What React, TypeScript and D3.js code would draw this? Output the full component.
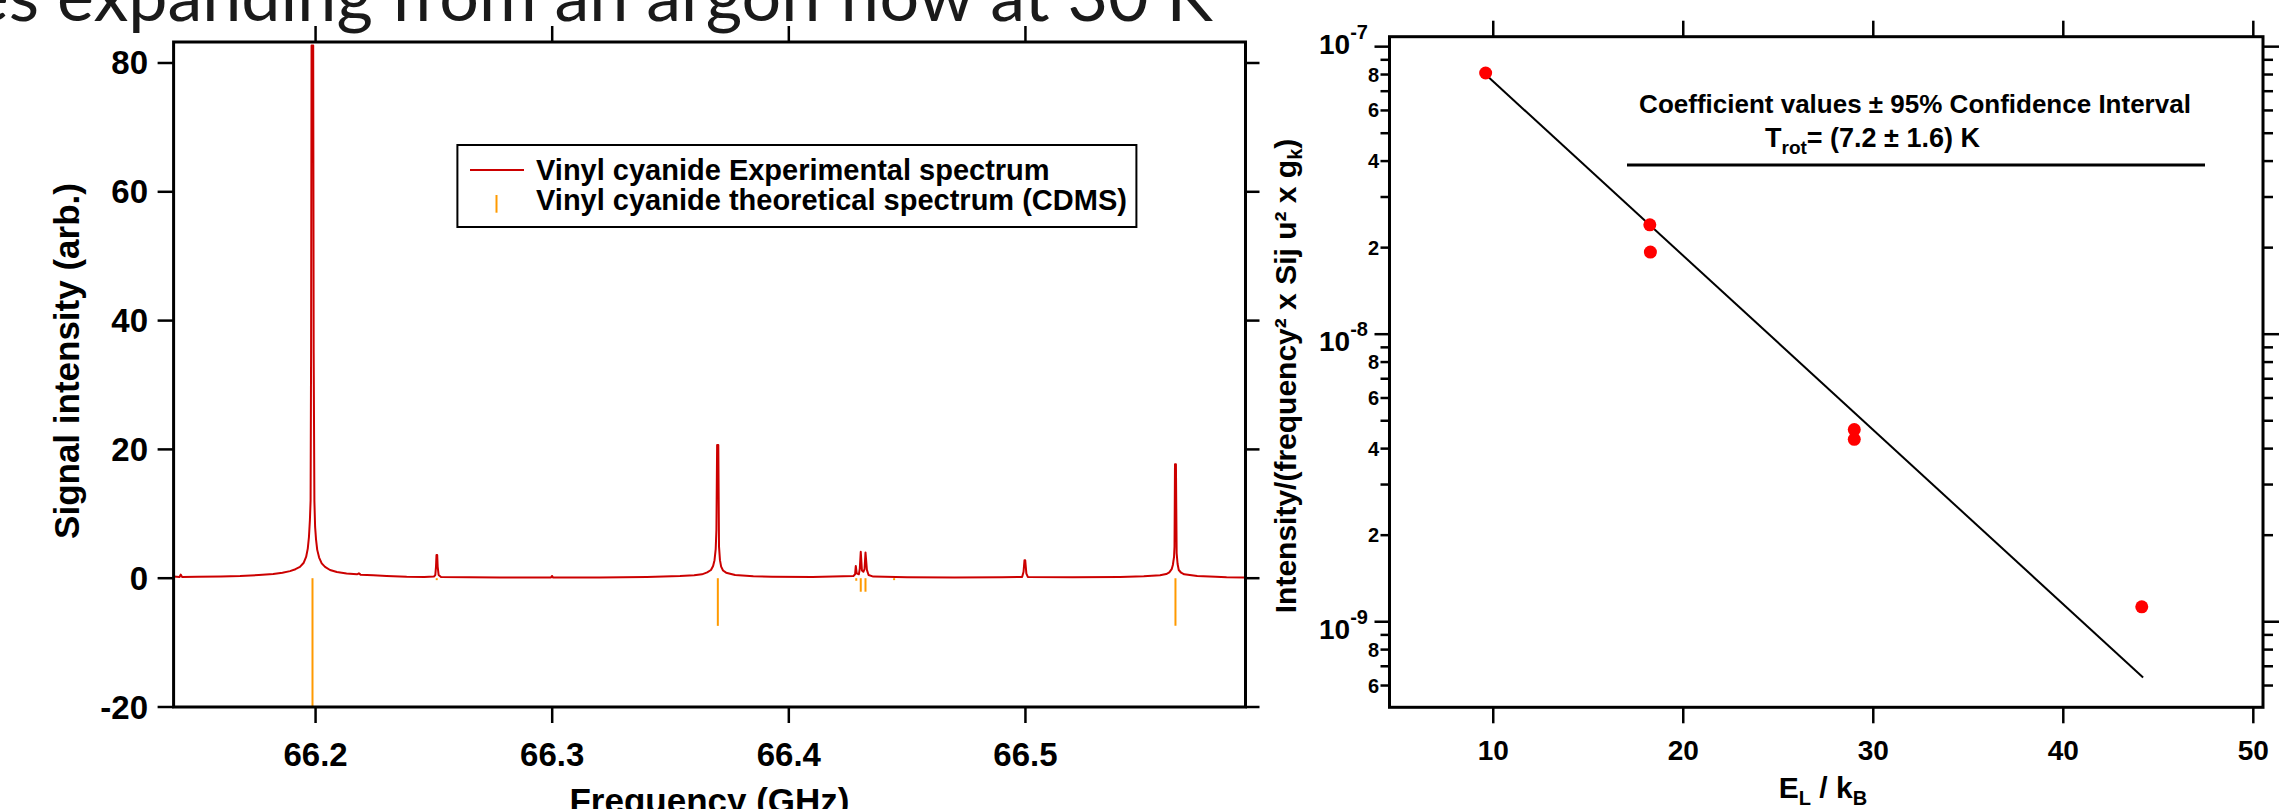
import React from 'react';
import * as d3 from 'd3';

// ---------- Left panel: spectrum ----------
const specFreq = [
  66.14, 66.1425, 66.143, 66.1436, 66.15, 66.16, 66.1681, 66.176, 66.1821, 66.186, 66.1892, 66.1915,
  66.1934, 66.195, 66.196, 66.1967, 66.1972, 66.1976, 66.1979, 66.1981, 66.1983, 66.199, 66.1992,
  66.1995, 66.1998, 66.2002, 66.2007, 66.2015, 66.2026, 66.204, 66.2061, 66.209, 66.2131, 66.2175,
  66.2183, 66.219, 66.2244, 66.23, 66.2385, 66.246, 66.25, 66.2506, 66.2509, 66.2511, 66.2514,
  66.2516, 66.252, 66.253, 66.265, 66.2779, 66.29, 66.2995, 66.2999, 66.3004, 66.32, 66.34, 66.354,
  66.36, 66.3633, 66.3655, 66.3671, 66.368, 66.3686, 66.3691, 66.3694, 66.3697, 66.3702, 66.3705,
  66.3709, 66.3714, 66.3722, 66.3735, 66.3773, 66.385, 66.3929, 66.41, 66.4273, 66.428, 66.4283,
  66.4287, 66.4296, 66.43, 66.4304, 66.4309, 66.4315, 66.432, 66.4324, 66.433, 66.4337, 66.4357,
  66.45, 66.47, 66.49, 66.4986, 66.4992, 66.4996, 66.4999, 66.5004, 66.501, 66.52, 66.54, 66.55,
  66.5569, 66.5595, 66.5608, 66.5618, 66.5623, 66.5628, 66.563, 66.5632, 66.5636, 66.5639, 66.5643,
  66.5648, 66.5658, 66.5671, 66.5726, 66.5804, 66.585, 66.5921, 66.593,
];
const specInt = [
  0.25, 0.2, 0.55, 0.2, 0.22, 0.28, 0.34, 0.5, 0.65, 0.85, 1.1, 1.4,
  1.75, 2.4, 3.3, 4.6, 6.4, 9.0, 12.1, 35, 82.7, 82.7, 35,
  12, 8.0, 6.0, 4.4, 3.2, 2.3, 1.75, 1.27, 0.95, 0.73, 0.6,
  0.75, 0.55, 0.45, 0.35, 0.23, 0.2, 0.25, 0.5, 1.8, 3.6, 3.6,
  1.8, 0.5, 0.2, 0.15, 0.1, 0.12, 0.1, 0.35, 0.1, 0.12, 0.2, 0.34,
  0.45, 0.6, 0.9, 1.27, 1.9, 2.8, 4.5, 7.5, 20.7, 20.7, 4.9,
  2.8, 1.8, 1.2, 0.86, 0.5, 0.32, 0.24, 0.2, 0.35, 0.6, 1.9,
  0.75, 0.6, 1.5, 4.1, 1.2, 1.0, 1.4, 4.0, 1.3, 0.5, 0.25,
  0.15, 0.12, 0.15, 0.2, 1.0, 2.8, 2.8, 0.7, 0.2, 0.15, 0.2, 0.3,
  0.45, 0.65, 0.9, 1.4, 2.05, 3.3, 4.9, 17.7, 17.7, 3.9, 2.2,
  1.27, 0.85, 0.6, 0.35, 0.24, 0.15, 0.1, 0.1,
];
const stickFreq = [66.1987, 66.2512, 66.37, 66.4285, 66.4304, 66.4324, 66.4445, 66.5634];
const stickInt = [-20, -0.3, -7.4, -0.4, -2.1, -2.1, -0.3, -7.4];
const leftYTicks = [-20, 0, 20, 40, 60, 80];
const leftXTicks = [66.2, 66.3, 66.4, 66.5];
const legendLabels = ['Vinyl cyanide Experimental spectrum', 'Vinyl cyanide theoretical spectrum (CDMS)'];

// ---------- Right panel: rotational diagram ----------
const energyEL = [9.6, 18.24, 18.27, 29.0, 29.0, 44.13];
const normIntensity = [8.1e-8, 2.4e-8, 1.93e-8, 4.66e-9, 4.31e-9, 1.127e-9];
const fitEL = [9.6, 44.2];
const fitIntensity = [8.0e-8, 6.4e-10];
const rightXTicks = [10, 20, 30, 40, 50];
const rightMajorExps = [-7, -8, -9];
const minorMultipliers = [2, 3, 4, 5, 6, 7, 8, 9];
const labeledMultipliers = [2, 4, 6, 8];

const FONT = '"Liberation Sans", Arial, Helvetica, sans-serif';
const RED = '#cc0000';
const ORANGE = '#ff9a00';

export default function App() {
  // left geometry
  const L = { x0: 173.6, x1: 1245.5, y0: 42, y1: 707 };
  const xL = d3.scaleLinear().domain([66.14, 66.593]).range([L.x0, L.x1]);
  const yL = d3.scaleLinear().domain([-20, 83.26]).range([L.y1, L.y0]);
  const specLine = d3
    .line<number>()
    .x((_, i) => xL(specFreq[i]))
    .y((d) => yL(d))(specInt) as string;

  // right geometry
  const R = { x0: 1389.5, x1: 2263, y0: 36.7, y1: 707.3 };
  const xR = d3.scaleLinear().domain([4.54, 50.51]).range([R.x0, R.x1]);
  const yR = d3.scaleLog().domain([5.04e-10, 1.083e-7]).range([R.y1, R.y0]);
  const fitPath = d3
    .line<number>()
    .x((_, i) => xR(fitEL[i]))
    .y((d) => yR(d))(fitIntensity) as string;

  const [lo, hi] = yR.domain();
  const majors = rightMajorExps.map((e) => Math.pow(10, e)).filter((v) => v >= lo && v <= hi);
  const minors: { v: number; m: number }[] = [];
  for (let e = -10; e <= -8; e++) {
    for (const m of minorMultipliers) {
      const v = m * Math.pow(10, e);
      if (v >= lo && v <= hi) minors.push({ v, m });
    }
  }

  return (
    <svg
      width={2281}
      height={809}
      style={{ position: 'absolute', left: 0, top: 0, background: '#fff' }}
      fontFamily={FONT}
    >
      <rect x={0} y={0} width={2281} height={809} fill="#fff" />
      {/* slide title, cropped at top */}
      <text x={1213} y={21} textAnchor="end" fontSize={70} fontFamily='Lato, "Open Sans", sans-serif' fill="#1a1a1a">
        Vinyl cyanide molecules expanding from an argon flow at 30 K
      </text>

      {/* ===== Left chart ===== */}
      <defs>
        <clipPath id="clipL">
          <rect x={L.x0} y={L.y0} width={L.x1 - L.x0} height={L.y1 - L.y0} />
        </clipPath>
      </defs>
      <g clipPath="url(#clipL)">
        {stickFreq.map((f, i) => (
          <line key={i} x1={xL(f)} x2={xL(f)} y1={yL(0)} y2={yL(stickInt[i])} stroke={ORANGE} strokeWidth={2} />
        ))}
        <path d={specLine} fill="none" stroke={RED} strokeWidth={2} strokeLinejoin="round" />
      </g>
      <rect x={L.x0} y={L.y0} width={L.x1 - L.x0} height={L.y1 - L.y0} fill="none" stroke="#000" strokeWidth={3} />
      {leftYTicks.map((v) => (
        <g key={v}>
          <line x1={L.x0 - 16} x2={L.x0} y1={yL(v)} y2={yL(v)} stroke="#000" strokeWidth={2.5} />
          <line x1={L.x1} x2={L.x1 + 14} y1={yL(v)} y2={yL(v)} stroke="#000" strokeWidth={2.5} />
          <text x={148} y={yL(v) + 11.5} textAnchor="end" fontSize={33} fontWeight="bold">
            {v}
          </text>
        </g>
      ))}
      {leftXTicks.map((v) => (
        <g key={v}>
          <line x1={xL(v)} x2={xL(v)} y1={L.y1} y2={L.y1 + 16} stroke="#000" strokeWidth={2.5} />
          <line x1={xL(v)} x2={xL(v)} y1={L.y0 - 16} y2={L.y0} stroke="#000" strokeWidth={2.5} />
          <text x={xL(v)} y={766} textAnchor="middle" fontSize={33} fontWeight="bold">
            {v.toFixed(1)}
          </text>
        </g>
      ))}
      <text transform="translate(79,361) rotate(-90)" textAnchor="middle" fontSize={35} fontWeight="bold">
        Signal intensity (arb.)
      </text>
      <text x={709.5} y={813} textAnchor="middle" fontSize={35} fontWeight="bold">
        Frequency (GHz)
      </text>
      {/* legend */}
      <rect x={457.4} y={145} width={679} height={82} fill="#fff" stroke="#000" strokeWidth={2} />
      <line x1={470} x2={524} y1={170} y2={170} stroke={RED} strokeWidth={2} />
      <line x1={496.5} x2={496.5} y1={195} y2={212.7} stroke={ORANGE} strokeWidth={2} />
      <text x={536} y={180} fontSize={29} fontWeight="bold">{legendLabels[0]}</text>
      <text x={536} y={210} fontSize={29} fontWeight="bold">{legendLabels[1]}</text>

      {/* ===== Right chart ===== */}
      <path d={fitPath} fill="none" stroke="#000" strokeWidth={2} />
      {energyEL.map((e, i) => (
        <circle key={i} cx={xR(e)} cy={yR(normIntensity[i])} r={6.5} fill="#ff0000" />
      ))}
      <rect x={R.x0} y={R.y0} width={R.x1 - R.x0} height={R.y1 - R.y0} fill="none" stroke="#000" strokeWidth={3} />
      {rightXTicks.map((v) => (
        <g key={v}>
          <line x1={xR(v)} x2={xR(v)} y1={R.y1} y2={R.y1 + 16} stroke="#000" strokeWidth={2.5} />
          <line x1={xR(v)} x2={xR(v)} y1={R.y0 - 16} y2={R.y0} stroke="#000" strokeWidth={2.5} />
          <text x={xR(v)} y={760} textAnchor="middle" fontSize={28} fontWeight="bold">
            {v}
          </text>
        </g>
      ))}
      {majors.map((v) => {
        const y = yR(v);
        const e = Math.round(Math.log10(v));
        const base = y - R.y0 < 20 ? y + 7 : y + 17;
        return (
          <g key={'M' + e}>
            <line x1={R.x0 - 15} x2={R.x0} y1={y} y2={y} stroke="#000" strokeWidth={2.5} />
            <line x1={R.x1} x2={R.x1 + 16} y1={y} y2={y} stroke="#000" strokeWidth={2.5} />
            <text x={1368} y={base} textAnchor="end" fontSize={28} fontWeight="bold">
              10
              <tspan fontSize={20} dy={-15}>
                {String(e)}
              </tspan>
            </text>
          </g>
        );
      })}
      {minors.map(({ v, m }) => {
        const y = yR(v);
        return (
          <g key={'m' + v}>
            <line x1={R.x0 - 9} x2={R.x0} y1={y} y2={y} stroke="#000" strokeWidth={2.5} />
            <line x1={R.x1} x2={R.x1 + 10} y1={y} y2={y} stroke="#000" strokeWidth={2.5} />
            {labeledMultipliers.includes(m) && (
              <text x={1379} y={y + 7} textAnchor="end" fontSize={20} fontWeight="bold">
                {m}
              </text>
            )}
          </g>
        );
      })}
      <text x={1823} y={798} textAnchor="middle" fontSize={30} fontWeight="bold">
        E<tspan fontSize={20} dy={7}>L</tspan>
        <tspan dy={-7}> / k</tspan>
        <tspan fontSize={20} dy={7}>B</tspan>
      </text>
      <text transform="translate(1296,376) rotate(-90)" textAnchor="middle" fontSize={30} fontWeight="bold">
        Intensity/(frequency² x Sij u² x g<tspan fontSize={20} dy={6}>k</tspan>
        <tspan dy={-6}>)</tspan>
      </text>
      {/* annotation */}
      <text x={1915} y={113} textAnchor="middle" fontSize={26} fontWeight="bold">
        Coefficient values ± 95% Confidence Interval
      </text>
      <text x={1765} y={146.7} fontSize={27} fontWeight="bold">
        T<tspan fontSize={19} dy={7}>rot</tspan>
        <tspan dy={-7}>= (7.2 ± 1.6) K</tspan>
      </text>
      <line x1={1627} x2={2205} y1={165} y2={165} stroke="#000" strokeWidth={3} />
    </svg>
  );
}
